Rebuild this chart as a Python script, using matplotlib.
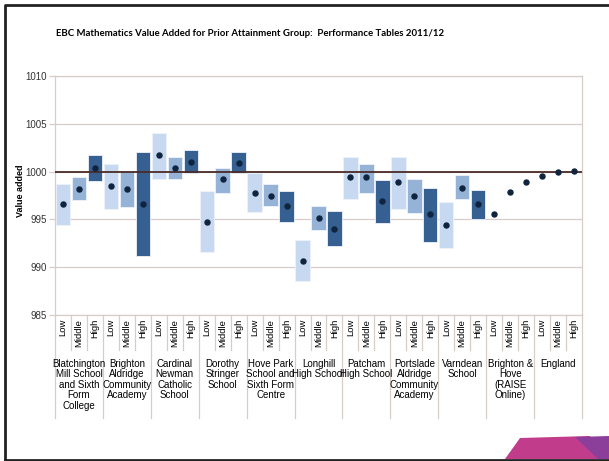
import numpy as np
import matplotlib.pyplot as plt
import matplotlib.transforms as mtransforms
from matplotlib.patches import Polygon
from matplotlib.lines import Line2D

schools = [
    "Blatchington\nMill School\nand Sixth\nForm\nCollege",
    "Brighton\nAldridge\nCommunity\nAcademy",
    "Cardinal\nNewman\nCatholic\nSchool",
    "Dorothy\nStringer\nSchool",
    "Hove Park\nSchool and\nSixth Form\nCentre",
    "Longhill\nHigh School",
    "Patcham\nHigh School",
    "Portslade\nAldridge\nCommunity\nAcademy",
    "Varndean\nSchool",
    "Brighton &\nHove\n(RAISE\nOnline)",
    "England",
]
groups = ["Low", "Middle", "High"]

# value added (dot) for each school x group
value = [
    996.6, 998.2, 1000.4,
    998.5, 998.2, 996.6,
    1001.7, 1000.4, 1001.0,
    994.7, 999.2, 1000.9,
    997.8, 997.5, 996.4,
    990.7, 995.1, 994.0,
    999.4, 999.4, 996.9,
    998.9, 997.5, 995.6,
    994.4, 998.3, 996.6,
    995.6, 997.9, 998.9,
    999.5, 1000.0, 1000.1,
]
# confidence interval (box), None where no box is shown
lower = [
    994.4, 997.0, 999.0,
    996.1, 996.3, 991.2,
    999.2, 999.2, 999.9,
    991.6, 997.8, 999.9,
    995.8, 996.4, 994.7,
    988.6, 993.9, 992.2,
    997.1, 997.8, 994.6,
    996.1, 995.7, 992.6,
    992.0, 997.1, 995.0,
    None, None, None,
    None, None, None,
]
upper = [
    998.7, 999.4, 1001.7,
    1000.8, 1000.1, 1002.0,
    1004.0, 1001.5, 1002.3,
    998.0, 1000.4, 1002.0,
    999.9, 998.7, 998.0,
    992.8, 996.4, 995.9,
    1001.5, 1000.8, 999.1,
    1001.5, 999.2, 998.3,
    996.8, 999.6, 998.1,
    None, None, None,
    None, None, None,
]

colors = {"Low": "#c6d9f0", "Middle": "#95b3d7", "High": "#376092"}
grid_c = "#d8ccc8"

fig = plt.figure(figsize=(6.09, 4.61), dpi=100)
W, H = 609, 461
ax = fig.add_axes([55 / W, 1 - 315 / H, 527 / W, 239 / H])

x = np.arange(len(value))
for i in x:
    g = groups[i % 3]
    if lower[i] is not None:
        ax.bar(i, upper[i] - lower[i], bottom=lower[i], width=0.9,
               color=colors[g], edgecolor="#eef3fa", linewidth=0.6, zorder=2)
ax.axhline(1000, color="#4a2a26", lw=1.3, zorder=3)
ax.plot(x, value, "o", color="#0f243e", ms=3.6, ls="none", zorder=4)

ax.set_xlim(-0.5, len(value) - 0.5)
ax.set_ylim(985, 1010)
ax.set_yticks(np.arange(985, 1011, 5))
ax.set_yticklabels([str(v) for v in range(985, 1011, 5)],
                   fontsize=7, family="Liberation Sans", color="#333333")
ax.yaxis.grid(True, color=grid_c, lw=0.9)
ax.set_axisbelow(True)
ax.set_xticks([])
ax.tick_params(axis="y", length=4, color=grid_c, width=0.9, pad=2)
for s in ax.spines.values():
    s.set_color(grid_c)
    s.set_linewidth(0.9)
ax.set_ylabel("Value added", fontsize=6.5, family="Liberation Sans",
              fontweight="bold")
ax.yaxis.set_label_coords(-30 / 527, 0.52)

# multi-level category axis
trans = mtransforms.blended_transform_factory(ax.transData, ax.transAxes)
inner_bot = -35 / 239
outer_bot = -103 / 239
for i in range(len(value) + 1):
    yb = outer_bot if i % 3 == 0 else inner_bot
    ax.add_line(Line2D([i - 0.5, i - 0.5], [0, yb], transform=trans,
                       color=grid_c, lw=0.9, clip_on=False))
for i in x:
    ax.text(i, -4 / 239, groups[i % 3], transform=trans, rotation=90,
            ha="center", va="top", fontsize=6.8, family="Liberation Sans")
for k, name in enumerate(schools):
    ax.text(3 * k + 1, -44 / 239, name, transform=trans, ha="center",
            va="top", fontsize=7, family="Liberation Sans", linespacing=1.05)

fig.text(250 / W, 1 - 34 / H,
         "EBC Mathematics Value Added for Prior Attainment Group:  Performance Tables 2011/12",
         ha="center", va="center", fontsize=6.9, fontweight="bold", family="Lato")

# page frame (open on the right)
ft = fig.transFigure
fig.add_artist(Line2D([5 / W, 5 / W, 1.0], [1 - 460 / H, 1 - 5 / H, 1 - 5 / H],
                      transform=ft, color="#222222", lw=2))
fig.add_artist(Line2D([5 / W, 1.0], [1 - 460 / H, 1 - 460 / H],
                      transform=ft, color="#222222", lw=2))

# decorative corner shape
pink = [(505, 459), (520, 438), (590, 436), (600, 459)]
purple = [(575, 437), (609, 436), (609, 459), (598, 459)]
fig.add_artist(Polygon([(px / W, 1 - py / H) for px, py in pink], closed=True,
                       transform=ft, color="#c23c8c", lw=0))
fig.add_artist(Polygon([(px / W, 1 - py / H) for px, py in purple], closed=True,
                       transform=ft, color="#8b3f9b", lw=0))

fig.savefig("out.png", dpi=100)
